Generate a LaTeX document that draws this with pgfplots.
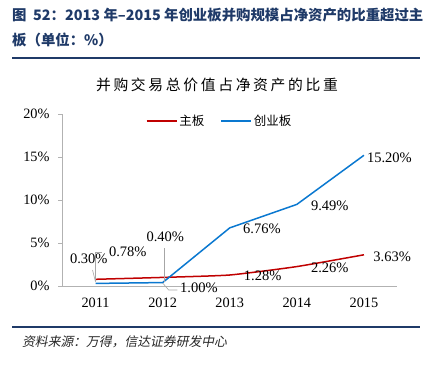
\documentclass[border=0pt]{standalone}
\usepackage{fontspec}
\usepackage{pgfplots}
\pgfplotsset{compat=1.18}
\setmainfont{Liberation Serif}
\newfontfamily\cjk{Noto Sans CJK SC}
\newfontfamily\cjkspaced[LetterSpace=18]{Noto Sans CJK SC}
\newfontfamily\cjkit[FakeSlant=0.2]{Noto Sans CJK SC}
\definecolor{navy}{HTML}{1F3A68}
\definecolor{cred}{HTML}{C00000}
\definecolor{cblue}{HTML}{0A78D0}
\definecolor{lead}{HTML}{A6A6A6}
\begin{document}
\begin{tikzpicture}
\useasboundingbox (0,0) rectangle (426pt,-365pt);
% header
\node[anchor=west,inner sep=0pt,text=navy] at (12pt,-15pt) {\cjk\bfseries\fontsize{14.4pt}{16pt}\selectfont 图\ \ 52：2013 年–2015 年创业板并购规模占净资产的比重超过主};
\node[anchor=west,inner sep=0pt,text=navy] at (12pt,-40pt) {\cjk\bfseries\fontsize{14.4pt}{16pt}\selectfont 板（单位：\%）};
\draw[navy,line width=1.5pt] (12pt,-58pt) -- (420pt,-58pt);
\draw[navy,line width=1.5pt] (12pt,-327pt) -- (420pt,-327pt);
\node[anchor=west,inner sep=0pt,text=black!85] at (22pt,-342pt) {\cjkit\fontsize{12.8pt}{14pt}\selectfont 资料来源：万得，信达证券研发中心};
% chart title
\node[inner sep=0pt] at (217pt,-85pt) {\cjkspaced\fontsize{14.8pt}{17pt}\selectfont 并购交易总价值占净资产的比重};
\begin{axis}[
  at={(62pt,-286pt)}, anchor=south west,
  scale only axis, width=335.5pt, height=172pt,
  xmin=2010.5, xmax=2015.5, ymin=0, ymax=20,
  clip=false,
  axis lines=left,
  axis line style={draw=black!30, line width=0.8pt, -},
  xtick={2011,2012,2013,2014,2015},
  xticklabels={2011,2012,2013,2014,2015},
  ytick={0,5,10,15,20},
  yticklabel={\pgfmathprintnumber{\tick}\%},
  /pgf/number format/assume math mode=true,
  tick style={draw=black!30, line width=0.8pt},
  major tick length=4pt,
  xtick style={draw=none},
  tick align=outside,
  ticklabel style={font=\fontsize{14.3pt}{16pt}\selectfont},
  xticklabel style={yshift=-4pt},
  yticklabel style={xshift=-5pt},
  legend style={at={(0.47,0.96)}, anchor=center, draw=none, fill=none,
    legend columns=2, font=\cjk\fontsize{12.5pt}{14pt}\selectfont,
    /tikz/every even column/.append style={column sep=14pt}},
  legend image code/.code={\draw[#1] (0pt,0pt) -- (30pt,0pt);},
]
\addplot[cred, line width=1.5pt, smooth, tension=0.3] coordinates {(2011,0.78) (2012,1.00) (2013,1.28) (2014,2.26) (2015,3.63)};
\addlegendentry{主板}
\addplot[cblue, line width=1.5pt] coordinates {(2011,0.30) (2012,0.40) (2013,6.76) (2014,9.49) (2015,15.20)};
\addlegendentry{创业板}
% leader lines
\draw[lead, line width=0.6pt] (axis cs:2011,0.47) -- (axis cs:2010.955,1.86);
\draw[lead, line width=0.6pt] (axis cs:2011,0.58) -- (axis cs:2011,3.95) -- (axis cs:2011.10,3.95);
\draw[lead, line width=0.6pt] (axis cs:2012.02,0.5) -- (axis cs:2012.02,4.4);
\draw[lead, line width=0.6pt] (axis cs:2012,0.35) -- (axis cs:2012.09,-0.47) -- (axis cs:2012.22,-0.47);
% labels
\begin{scope}[every node/.style={font=\fontsize{14.5pt}{16pt}\selectfont, inner sep=0pt}]
\node at (axis cs:2010.90,3.14) {0.30\%};
\node at (axis cs:2011.48,3.95) {0.78\%};
\node at (axis cs:2012.04,5.70) {0.40\%};
\node at (axis cs:2012.54,-0.23) {1.00\%};
\node at (axis cs:2013.48,6.63) {6.76\%};
\node at (axis cs:2014.49,9.30) {9.49\%};
\node at (axis cs:2013.49,1.16) {1.28\%};
\node at (axis cs:2014.49,2.09) {2.26\%};
\node at (axis cs:2015.42,3.37) {3.63\%};
\node at (axis cs:2015.38,14.88) {15.20\%};
\end{scope}
\end{axis}
\end{tikzpicture}
\end{document}
